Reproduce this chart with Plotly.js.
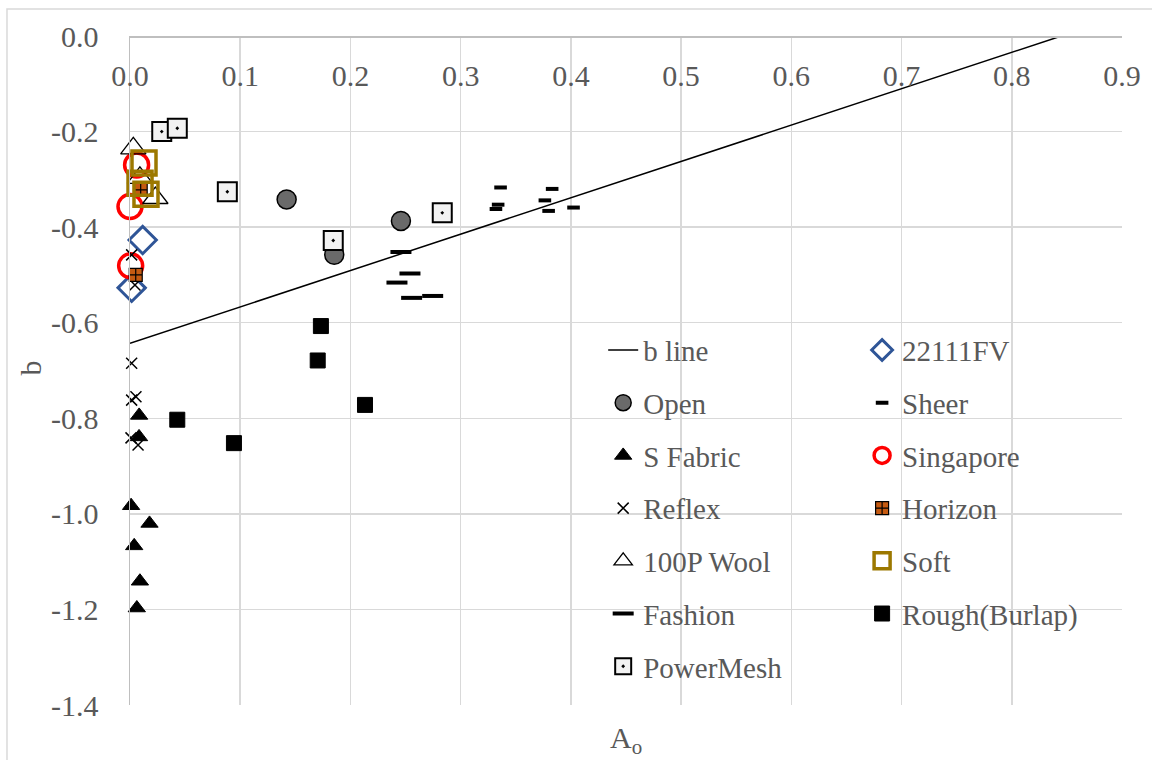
<!DOCTYPE html>
<html>
<head>
<meta charset="utf-8">
<script src="https://cdn.plot.ly/plotly-3.0.1.min.js"></script>
<style>html,body{margin:0;padding:0;background:#fff;}#chart{width:1152px;height:760px;}</style>
</head>
<body>
<div id="chart"></div>
<script>
// ---- data ----
const bLineA = [0, 0.845];
const bLineB = [-0.643, 0];

const fv22111A = [0.0115, 0.0015];
const fv22111B = [-0.427, -0.527];

const openA = [0.1421, 0.1853, 0.2458];
const openB = [-0.342, -0.458, -0.387];

const sheerA = [0.3362, 0.334, 0.332, 0.383, 0.3764, 0.3798, 0.4024];
const sheerB = [-0.317, -0.353, -0.362, -0.320, -0.344, -0.366, -0.359];

const sFabricA = [0.0083, 0.0082, 0.001, 0.0177, 0.0038, 0.009, 0.0062];
const sFabricB = [-0.794, -0.839, -0.983, -1.020, -1.067, -1.141, -1.197];

const singaporeA = [0.006, 0.0, 0.0006];
const singaporeB = [-0.270, -0.357, -0.481];

const reflexA = [0.0015, 0.0045, 0.0015, 0.0054, 0.0015, 0.0009, 0.0073];
const reflexB = [-0.458, -0.521, -0.685, -0.755, -0.762, -0.841, -0.856];

const horizonA = [0.0097, 0.0052];
const horizonB = [-0.322, -0.500];

const woolA = [0.003, 0.009, 0.023];
const woolB = [-0.235, -0.297, -0.339];

const softA = [0.0127, 0.0091, 0.0145];
const softB = [-0.266, -0.308, -0.331];

const fashionA = [0.2458, 0.254, 0.2422, 0.2555, 0.2746];
const fashionB = [-0.452, -0.497, -0.516, -0.548, -0.544];

const roughA = [0.1732, 0.1703, 0.2132, 0.0429, 0.0943];
const roughB = [-0.607, -0.679, -0.772, -0.803, -0.852];

const powerMeshA = [0.0288, 0.0429, 0.0883, 0.1844, 0.2833];
const powerMeshB = [-0.200, -0.193, -0.326, -0.428, -0.370];

const xTickVals = [0, 0.1, 0.2, 0.3, 0.4, 0.5, 0.6, 0.7, 0.8, 0.9];
const xTickText = ['0.0', '0.1', '0.2', '0.3', '0.4', '0.5', '0.6', '0.7', '0.8', '0.9'];
const yTickVals = [0, -0.2, -0.4, -0.6, -0.8, -1.0, -1.2, -1.4];
const yTickText = ['0.0', '-0.2', '-0.4', '-0.6', '-0.8', '-1.0', '-1.2', '-1.4'];

// ---- styling ----
const FONT = 'Liberation Serif';
const TXT = '#595959';
let g = 0;
function sc(name, x, y, marker, legend) {
  g += 1;
  return {type: 'scatter', mode: 'markers', name: name, x: x, y: y, cliponaxis: false,
    marker: marker, legend: legend, legendgroup: 'g' + g, hoverinfo: 'x+y+name'};
}

const traces = [
  {type: 'scatter', mode: 'lines', name: 'b line', x: bLineA, y: bLineB, cliponaxis: false,
    line: {color: '#000000', width: 1.5}, legend: 'legend', legendgroup: 'g0'},
  sc('22111FV', fv22111A, fv22111B, {symbol: 'diamond-open', size: 21, color: '#2f5597', line: {color: '#2f5597', width: 3}}, 'legend2'),
  sc('Open', openA, openB, {symbol: 'circle', size: 19, color: '#6a6a6a', line: {color: '#000000', width: 1.5}}, 'legend'),
  sc('Sheer', sheerA, sheerB, {symbol: 'line-ew', size: 9, color: '#000000', line: {color: '#000000', width: 4}}, 'legend2'),
  sc('S Fabric', sFabricA, sFabricB, {symbol: 'triangle-up', size: 15, color: '#000000', line: {color: '#000000', width: 1}}, 'legend'),
  sc('Singapore', singaporeA, singaporeB, {symbol: 'circle-open', size: 24, color: '#ff0000', line: {color: '#ff0000', width: 3.5}}, 'legend2'),
  sc('Reflex', reflexA, reflexB, {symbol: 'x-thin-open', size: 11, color: '#000000', line: {color: '#000000', width: 1.5}}, 'legend'),
  sc('Horizon', horizonA, horizonB, {symbol: 'square-cross', size: 13, color: '#c55a11', line: {color: '#000000', width: 1.2}}, 'legend2'),
  sc('100P Wool', woolA, woolB, {symbol: 'triangle-up-open', size: 22, color: '#000000', line: {color: '#000000', width: 1.3}}, 'legend'),
  sc('Soft', softA, softB, {symbol: 'square-open', size: 24, color: '#9c7800', line: {color: '#9c7800', width: 3.5}}, 'legend2'),
  sc('Fashion', fashionA, fashionB, {symbol: 'line-ew', size: 15, color: '#000000', line: {color: '#000000', width: 4}}, 'legend'),
  sc('Rough(Burlap)', roughA, roughB, {symbol: 'square', size: 15, color: '#000000', line: {color: '#000000', width: 1}}, 'legend2'),
  sc('PowerMesh', powerMeshA, powerMeshB, {symbol: 'square-dot', size: 19, color: '#f2f2f2', line: {color: '#000000', width: 2}}, 'legend')
];

const legendCommon = {
  orientation: 'v', bgcolor: 'rgba(0,0,0,0)', borderwidth: 0,
  font: {family: FONT, size: 29, color: TXT}, tracegroupgap: 12,
  xanchor: 'left', yanchor: 'top', traceorder: 'grouped', itemsizing: 'trace'
};

const layout = {
  width: 1152, height: 760,
  margin: {l: 130, r: 30, t: 36, b: 55},
  paper_bgcolor: '#ffffff', plot_bgcolor: '#ffffff',
  font: {family: FONT, color: TXT},
  showlegend: true,
  xaxis: {
    range: [0, 0.9], anchor: 'free', position: 1, side: 'bottom',
    tickmode: 'array', tickvals: xTickVals, ticktext: xTickText,
    tickfont: {family: FONT, size: 30, color: TXT},
    showgrid: true, gridcolor: '#d9d9d9', gridwidth: 1.5,
    zeroline: false, showline: true, linecolor: '#bfbfbf', linewidth: 1.5,
    ticks: '', ticklabelstandoff: 12, automargin: false
  },
  yaxis: {
    range: [-1.4, 0],
    tickmode: 'array', tickvals: yTickVals, ticktext: yTickText,
    tickfont: {family: FONT, size: 30, color: TXT},
    showgrid: true, gridcolor: '#d9d9d9', gridwidth: 1.5,
    zeroline: false, showline: true, linecolor: '#bfbfbf', linewidth: 1.5,
    ticks: '', ticklabelstandoff: 24, automargin: false
  },
  legend: Object.assign({}, legendCommon, {x: 0.477, y: 0.5685}),
  legend2: Object.assign({}, legendCommon, {x: 0.738, y: 0.5685}),
  annotations: [
    {text: 'b', xref: 'paper', yref: 'paper', x: -0.1, y: 0.504, textangle: -90,
      showarrow: false, xanchor: 'center', yanchor: 'middle', font: {family: FONT, size: 30, color: TXT}},
    {text: 'A<sub>o</sub>', xref: 'paper', yref: 'paper', x: 0.5, y: -0.052,
      showarrow: false, xanchor: 'center', yanchor: 'middle', font: {family: FONT, size: 30, color: TXT}}
  ],
  shapes: [
    {type: 'rect', xref: 'paper', yref: 'paper', x0: -0.124, x1: 1.05, y0: -0.12, y1: 1.0404,
      line: {color: '#d9d9d9', width: 1.5}, fillcolor: 'rgba(0,0,0,0)', layer: 'below'}
  ]
};

Plotly.newPlot('chart', traces, layout, {displayModeBar: false, staticPlot: true});
</script>
</body>
</html>
